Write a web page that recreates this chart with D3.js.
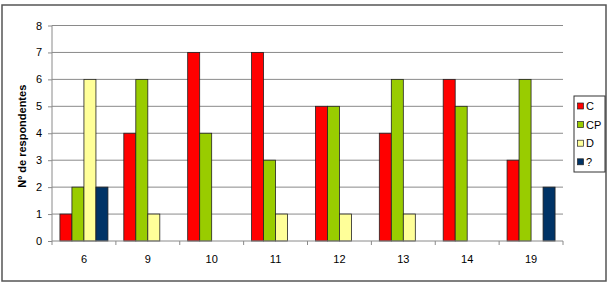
<!DOCTYPE html>
<html><head><meta charset="utf-8">
<script src="https://cdn.jsdelivr.net/npm/d3@7"></script>
<style>body{margin:0;background:#fff}svg{display:block}</style>
</head><body>
<svg id="c" width="610" height="285"></svg>
<script>
const categories = ["6","9","10","11","12","13","14","19"];
const seriesNames = ["C","CP","D","?"];
const seriesC  = [1,4,7,7,5,4,6,3];
const seriesCP = [2,6,4,3,5,6,5,6];
const seriesD  = [6,1,0,1,1,1,0,0];
const seriesQ  = [2,0,0,0,0,0,0,2];
const yTicks = [0,1,2,3,4,5,6,7,8];
const colors = ["#ff0000","#99cc00","#ffff99","#003366"];
const seriesValues = [seriesC, seriesCP, seriesD, seriesQ];

const svg = d3.select("#c");
const font = "Liberation Sans, Arial, sans-serif";
svg.append("rect").attr("x",2).attr("y",5).attr("width",604).attr("height",276)
  .attr("fill","#fff").attr("stroke","#555").attr("stroke-width",1.5);

const L=52, R=563, T=25.5, B=241;
const x = d3.scaleBand().domain(categories).range([L,R]);
const y = d3.scaleLinear().domain([0,8]).range([B,T]);
const xs = d3.scaleBand().domain(seriesNames).range([0,48]);

// gridlines
svg.append("g").selectAll("line").data(yTicks.slice(1)).join("line")
  .attr("x1",L).attr("x2",R).attr("y1",d=>y(d)).attr("y2",d=>y(d))
  .attr("stroke","#8a8a8a").attr("stroke-width",1);

// bars
const data = [];
categories.forEach((c,i)=>seriesNames.forEach((s,j)=>{
  if (seriesValues[j][i] > 0) data.push({c,s,v:seriesValues[j][i],col:colors[j]});
}));
svg.append("g").selectAll("rect").data(data).join("rect")
  .attr("x",d=>x(d.c)+(x.bandwidth()-48)/2+xs(d.s))
  .attr("y",d=>y(d.v)).attr("width",xs.bandwidth()).attr("height",d=>B-y(d.v))
  .attr("fill",d=>d.col).attr("stroke","#222").attr("stroke-width",0.8);

// y axis
const ya = svg.append("g").attr("transform",`translate(${L},0)`)
  .call(d3.axisLeft(y).tickValues(yTicks).tickSize(4).tickPadding(6).tickFormat(d3.format("d")));
ya.select(".domain").attr("stroke","#8a8a8a").attr("d",`M0,${T}V${B}`);
ya.selectAll(".tick line").attr("stroke","#8a8a8a");
ya.selectAll("text").attr("font-family",font).attr("font-size",11).attr("fill","#000");

// x axis
const xa = svg.append("g").attr("transform",`translate(0,${B})`)
  .call(d3.axisBottom(x).tickSize(0).tickPadding(14));
xa.select(".domain").attr("stroke","#8a8a8a").attr("d",`M${L},0H${R}`);
xa.selectAll("text").attr("font-family",font).attr("font-size",11).attr("fill","#000");
xa.append("g").selectAll("line").data(d3.range(categories.length+1)).join("line")
  .attr("x1",i=>L+i*x.step()).attr("x2",i=>L+i*x.step()).attr("y1",0).attr("y2",4)
  .attr("stroke","#8a8a8a");

// y label
svg.append("text").attr("transform",`translate(26,${(T+B)/2+3}) rotate(-90)`)
  .attr("text-anchor","middle").attr("font-family",font).attr("font-size",11)
  .attr("font-weight","bold").text("Nº de respondentes");

// legend
const lg = svg.append("g");
lg.append("rect").attr("x",574).attr("y",96).attr("width",31).attr("height",76)
  .attr("fill","#fff").attr("stroke","#333").attr("stroke-width",1);
seriesNames.forEach((s,i)=>{
  const cy = 106 + i*18.6;
  lg.append("rect").attr("x",577.5).attr("y",cy-3).attr("width",6).attr("height",6)
    .attr("fill",colors[i]).attr("stroke","#222").attr("stroke-width",0.7);
  lg.append("text").attr("x",586).attr("y",cy+4).attr("font-family",font)
    .attr("font-size",11).text(s);
});
</script>
</body></html>
